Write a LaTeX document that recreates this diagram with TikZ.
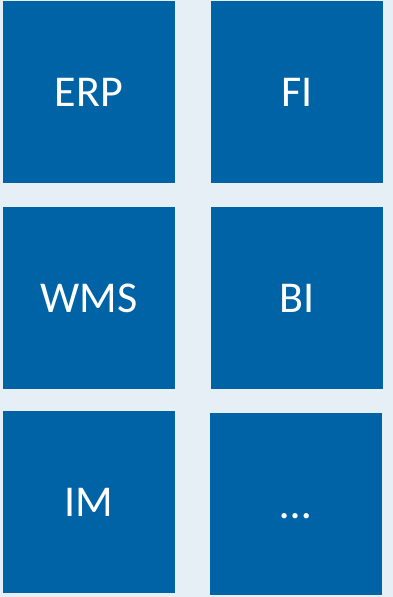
\documentclass[tikz,border=0pt]{standalone}
\usepackage{fontspec}
\setmainfont{Carlito}
\usepackage{xcolor}
\definecolor{tileblue}{HTML}{0063A6}
\definecolor{paleback}{HTML}{E6EFF5}

\begin{document}
\begin{tikzpicture}[
  x=1pt, y=-1pt,
  font=\fontsize{44}{48}\selectfont,
  every node/.style={align=center},
  tile/.style={fill=tileblue, text=white, inner sep=0pt,
               text height=29pt, text depth=0pt,
               minimum width=172pt, minimum height=182pt}
]
\fill[paleback] (0,0) rectangle (393,597);
\useasboundingbox (0,0) rectangle (393,597);
\node[tile] (erp) at (89,91.5) {ERP};
\node[tile] (fi) at (297,91.5) {FI};
\node[tile] (wms) at (89,298) {WMS};
\node[tile] (bi) at (297,298) {BI};
\node[tile] (im) at (89,502) {IM};
\node[tile] (more) at (296,504) {…};
\end{tikzpicture}
\end{document}
